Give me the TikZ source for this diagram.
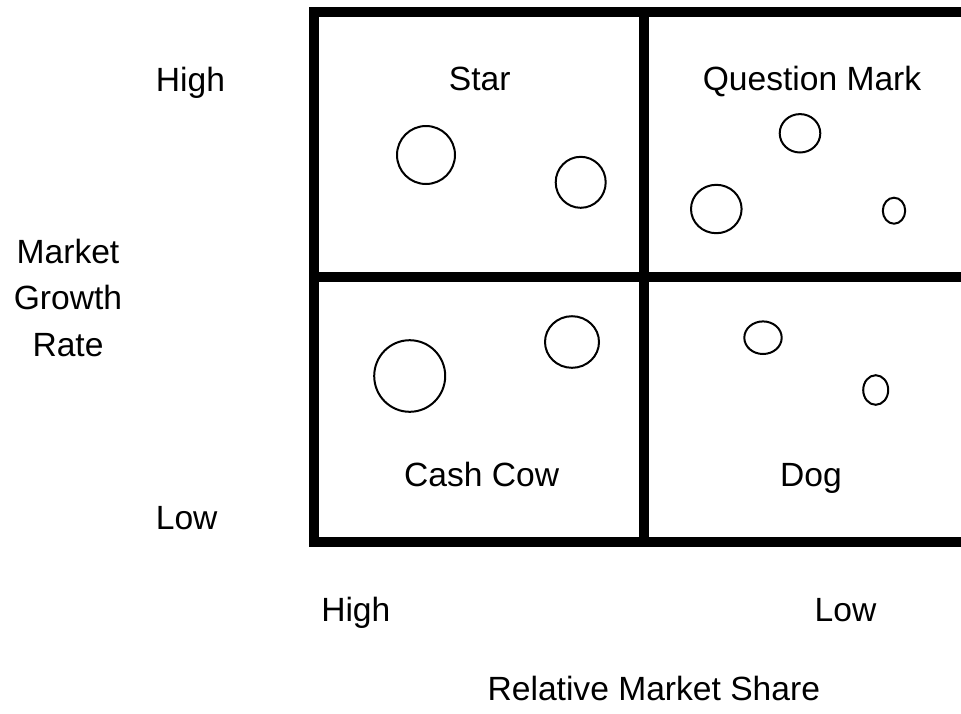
\documentclass[tikz,border=0pt]{standalone}
\usepackage{fontspec}
\setmainfont{Liberation Sans}
\usetikzlibrary{shapes.geometric}
\begin{document}
\begin{tikzpicture}[x=1pt,y=-1pt,
  frame/.style={line width=10pt,line join=miter,line cap=butt},
  blob/.style={ellipse,draw,line width=2pt,inner sep=0pt},
  lbl/.style={anchor=base,inner sep=0pt,font=\fontsize{33.6}{46.4}\selectfont}]
\useasboundingbox (0,0) rectangle (961,713);
\clip (0,0) rectangle (961,713);
% frame
\coordinate (tl) at (314,12);
\coordinate (tr) at (975,12);
\coordinate (bl) at (314,542);
\coordinate (br) at (975,542);
\coordinate (mt) at (644,12);
\coordinate (mb) at (644,542);
\coordinate (ml) at (314,277);
\coordinate (mr) at (975,277);
\draw[frame] (tr) -- (tl) -- (bl) -- (br);
\draw[frame] (mt) -- (mb);
\draw[frame] (ml) -- (mr);
% quadrant labels
\node[lbl] (star) at (479.7,90) {Star};
\node[lbl] (qm) at (812,90.7) {Question Mark};
\node[lbl] (cc) at (481.7,486.7) {Cash Cow};
\node[lbl] (dog) at (811,486.7) {Dog};
% circles
\node[blob,minimum width=58pt,minimum height=58pt] (s1) at (426,155) {};
\node[blob,minimum width=50pt,minimum height=51pt] (s2) at (580.7,182.3) {};
\node[blob,minimum width=40.6pt,minimum height=38.4pt] (q1) at (800,133.3) {};
\node[blob,minimum width=50.6pt,minimum height=48.4pt] (q2) at (716.3,209) {};
\node[blob,minimum width=22.4pt,minimum height=26pt] (q3) at (894,210.7) {};
\node[blob,minimum width=71pt,minimum height=71.6pt] (c1) at (409.7,376) {};
\node[blob,minimum width=54pt,minimum height=51.6pt] (c2) at (572,342) {};
\node[blob,minimum width=37.4pt,minimum height=32.6pt] (d1) at (763,337.7) {};
\node[blob,minimum width=25pt,minimum height=29.6pt] (d2) at (875.7,390) {};
% axis labels
\node[lbl] (yhigh) at (190.4,91.7) {High};
\node[lbl,align=center] (ytitle) at (68,356) {Market\\Growth\\Rate};
\node[lbl] (ylow) at (186.7,529.3) {Low};
\node[lbl] (xhigh) at (355.8,621) {High};
\node[lbl] (xlow) at (845.5,621.7) {Low};
\node[lbl] (xtitle) at (653.8,700) {Relative Market Share};
\end{tikzpicture}
\end{document}
